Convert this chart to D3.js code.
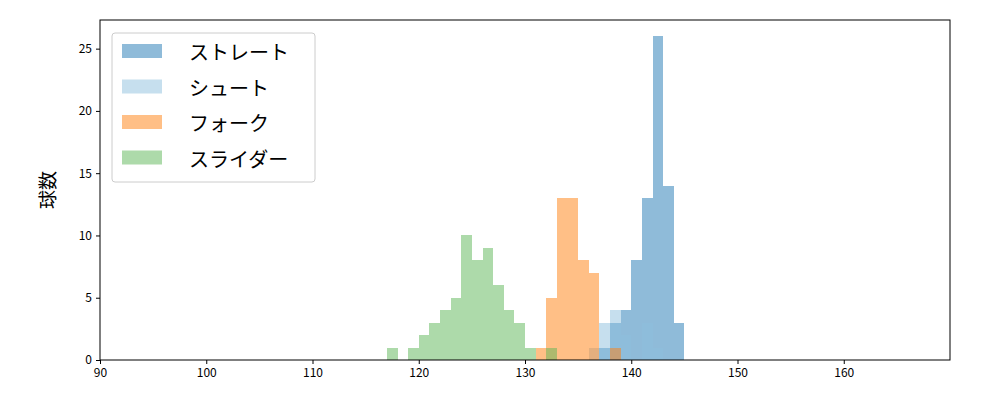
<!DOCTYPE html>
<html><head><meta charset="utf-8">
<script src="https://cdn.jsdelivr.net/npm/d3@7"></script>
<style>body{margin:0;background:#fff}text{font-family:"Noto Sans CJK JP","DejaVu Sans",sans-serif}</style>
</head><body><svg id="c" width="1000" height="400"></svg>
<script>
// bin start (width 1) and count per pitch type
const straightBins = [137, 138, 139, 140, 141, 142, 143, 144];
const straightCounts = [1, 3, 4, 8, 13, 26, 14, 3];
const shootBins = [136, 137, 138, 139, 141, 142];
const shootCounts = [1, 3, 4, 2, 3, 1];
const forkBins = [131, 132, 133, 134, 135, 136, 138];
const forkCounts = [1, 5, 13, 13, 8, 7, 1];
const sliderBins = [117, 119, 120, 121, 122, 123, 124, 125, 126, 127, 128, 129, 130, 132];
const sliderCounts = [1, 1, 2, 3, 4, 5, 10, 8, 9, 6, 4, 3, 1, 1];
const names = ["ストレート", "シュート", "フォーク", "スライダー"];
const colors = ["#1f77b4", "#8dc0de", "#ff7f0e", "#5bb555"];
const xTicks = [90, 100, 110, 120, 130, 140, 150, 160];
const yTicks = [0, 5, 10, 15, 20, 25];

const svg = d3.select("#c");
const m = {l: 100, r: 950, t: 20, b: 360};
const x = d3.scaleLinear().domain([90, 170]).range([m.l, m.r]);
const y = d3.scaleLinear().domain([0, 27.3]).range([m.b, m.t]);

const series = [
  [straightBins, straightCounts],
  [shootBins, shootCounts],
  [forkBins, forkCounts],
  [sliderBins, sliderCounts]
];
series.forEach(([bins, counts], i) => {
  svg.append("g").attr("fill", colors[i]).attr("fill-opacity", 0.5)
    .selectAll("rect").data(bins).join("rect")
    .attr("shape-rendering", "crispEdges")
    .attr("x", d => Math.round(x(d))).attr("width", d => Math.round(x(d + 1)) - Math.round(x(d)))
    .attr("y", (d, j) => y(counts[j])).attr("height", (d, j) => y(0) - y(counts[j]));
});

svg.append("g").attr("transform", `translate(0,${m.b})`)
  .call(d3.axisBottom(x).tickValues(xTicks).tickSize(4).tickPadding(4))
  .call(g => g.selectAll("text").attr("font-size", 12).attr("fill", "#000"));
svg.append("g").attr("transform", `translate(${m.l},0)`)
  .call(d3.axisLeft(y).tickValues(yTicks).tickSize(4).tickPadding(4))
  .call(g => g.selectAll("text").attr("font-size", 12).attr("fill", "#000"));
svg.selectAll(".domain").remove();
svg.append("rect").attr("x", m.l).attr("y", m.t).attr("width", m.r - m.l).attr("height", m.b - m.t)
  .attr("fill", "none").attr("stroke", "#000").attr("stroke-width", 1);

svg.append("text").attr("transform", "translate(55,190) rotate(-90)")
  .attr("text-anchor", "middle").attr("font-size", 19).text("球数");

// legend
const lg = svg.append("g").attr("transform", "translate(112,33)");
lg.append("rect").attr("width", 203).attr("height", 149).attr("rx", 3)
  .attr("fill", "#fff").attr("fill-opacity", 0.8).attr("stroke", "#ccc");
names.forEach((n, i) => {
  lg.append("rect").attr("x", 10).attr("y", 11 + i * 35.5).attr("width", 40).attr("height", 14)
    .attr("fill", colors[i]).attr("fill-opacity", 0.5);
  lg.append("text").attr("x", 77).attr("y", 27 + i * 35.5).attr("font-size", 20).text(n);
});
</script></body></html>
